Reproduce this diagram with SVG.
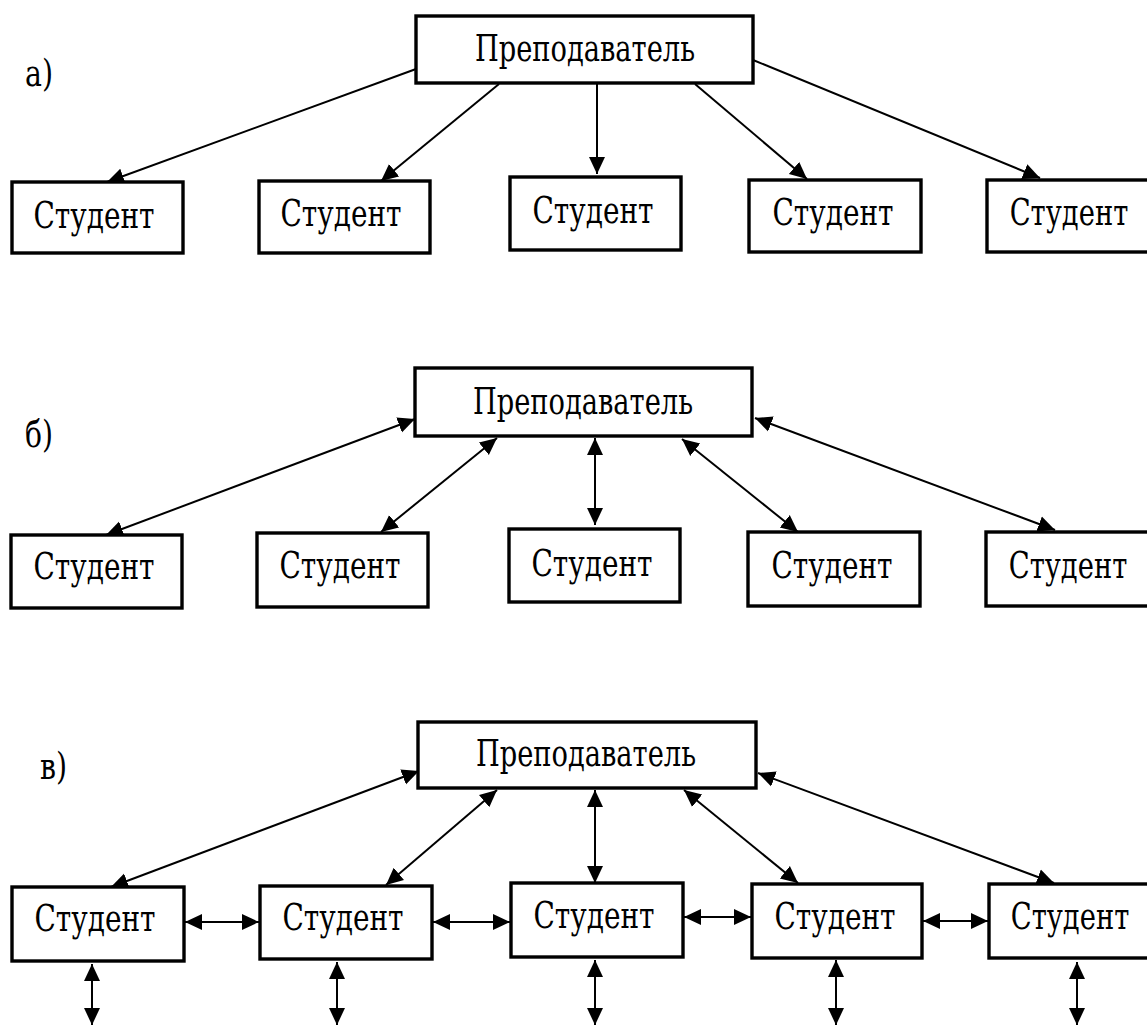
<svg xmlns="http://www.w3.org/2000/svg" width="1147" height="1026" viewBox="0 0 1147 1026">
<style>
.box{fill:#fff;stroke:#000;stroke-width:3.4}
.t{font-family:"DejaVu Serif","Liberation Serif",serif;font-size:37px;fill:#000;text-anchor:middle}
.lbl{font-family:"DejaVu Serif","Liberation Serif",serif;font-size:37px;fill:#000}
.c{stroke:#000;stroke-width:2;fill:none;marker-end:url(#ah)}
.d{stroke:#000;stroke-width:2;fill:none;marker-end:url(#ah);marker-start:url(#ah)}
</style>
<defs>
<marker id="ah" markerUnits="userSpaceOnUse" markerWidth="18" markerHeight="18" refX="17" refY="8.5" orient="auto-start-reverse" viewBox="0 0 18 18">
<path d="M0,0.5 L17,8.5 L0,16.5 z" fill="#000"/>
</marker>
</defs>
<rect width="1147" height="1026" fill="#fff"/>
<text class="lbl" x="25" y="86" textLength="28" lengthAdjust="spacingAndGlyphs">а)</text>
<text class="lbl" x="25" y="447" textLength="28" lengthAdjust="spacingAndGlyphs">б)</text>
<text class="lbl" x="40" y="779" textLength="27" lengthAdjust="spacingAndGlyphs">в)</text>

<g id="connectors">
<line class="c" x1="416" y1="69" x2="107" y2="182"/>
<line class="c" x1="499" y1="84" x2="381" y2="181"/>
<line class="c" x1="597" y1="84" x2="597" y2="174"/>
<line class="c" x1="695" y1="84" x2="807" y2="179"/>
<line class="c" x1="753" y1="60" x2="1040" y2="178"/>

<line class="d" x1="415" y1="419" x2="106" y2="535"/>
<line class="d" x1="497" y1="438" x2="381" y2="532"/>
<line class="d" x1="595" y1="438" x2="595" y2="525"/>
<line class="d" x1="682" y1="439" x2="798" y2="532"/>
<line class="d" x1="755" y1="418" x2="1055" y2="530"/>

<line class="d" x1="419" y1="771" x2="111" y2="887"/>
<line class="d" x1="497" y1="790" x2="386" y2="885"/>
<line class="d" x1="595" y1="790" x2="595" y2="883"/>
<line class="d" x1="684" y1="790" x2="798" y2="883"/>
<line class="d" x1="758" y1="773" x2="1054" y2="883"/>

<line class="d" x1="185" y1="922" x2="259" y2="922"/>
<line class="d" x1="433" y1="922" x2="510" y2="922"/>
<line class="d" x1="684" y1="917" x2="751" y2="917"/>
<line class="d" x1="923" y1="921" x2="988" y2="921"/>

<line class="d" x1="92" y1="964" x2="92" y2="1025"/>
<line class="d" x1="337" y1="962" x2="337" y2="1025"/>
<line class="d" x1="595" y1="960" x2="595" y2="1025"/>
<line class="d" x1="836" y1="960" x2="836" y2="1025"/>
<line class="d" x1="1077" y1="962" x2="1077" y2="1025"/>
</g>

<g id="a-teacher"><rect class="box" x="416" y="16" width="337" height="67"/><text class="t" x="585" y="61" textLength="220" lengthAdjust="spacingAndGlyphs">Преподаватель</text></g>
<g id="a-s1"><rect class="box" x="12" y="182" width="171" height="71"/><text class="t" x="94" y="228" textLength="121" lengthAdjust="spacingAndGlyphs">Студент</text></g>
<g id="a-s2"><rect class="box" x="259" y="181" width="171" height="72"/><text class="t" x="341" y="226" textLength="121" lengthAdjust="spacingAndGlyphs">Студент</text></g>
<g id="a-s3"><rect class="box" x="510" y="177" width="171" height="73"/><text class="t" x="593" y="223" textLength="121" lengthAdjust="spacingAndGlyphs">Студент</text></g>
<g id="a-s4"><rect class="box" x="749" y="180" width="172" height="72"/><text class="t" x="833" y="225" textLength="121" lengthAdjust="spacingAndGlyphs">Студент</text></g>
<g id="a-s5"><rect class="box" x="987" y="180" width="162" height="72"/><text class="t" x="1069" y="225" transform="translate(1069,0) scale(0.74,1) translate(-1069,0)">Студент</text></g>

<g id="b-teacher"><rect class="box" x="415" y="368" width="337" height="68"/><text class="t" x="583" y="414" textLength="220" lengthAdjust="spacingAndGlyphs">Преподаватель</text></g>
<g id="b-s1"><rect class="box" x="11" y="535" width="171" height="73"/><text class="t" x="94" y="579" textLength="121" lengthAdjust="spacingAndGlyphs">Студент</text></g>
<g id="b-s2"><rect class="box" x="257" y="533" width="171" height="74"/><text class="t" x="340" y="578" textLength="121" lengthAdjust="spacingAndGlyphs">Студент</text></g>
<g id="b-s3"><rect class="box" x="509" y="529" width="171" height="73"/><text class="t" x="592" y="576" textLength="121" lengthAdjust="spacingAndGlyphs">Студент</text></g>
<g id="b-s4"><rect class="box" x="748" y="532" width="172" height="74"/><text class="t" x="832" y="578" textLength="121" lengthAdjust="spacingAndGlyphs">Студент</text></g>
<g id="b-s5"><rect class="box" x="986" y="532" width="163" height="74"/><text class="t" x="1068" y="578" transform="translate(1068,0) scale(0.74,1) translate(-1068,0)">Студент</text></g>

<g id="c-teacher"><rect class="box" x="418" y="722" width="338" height="66"/><text class="t" x="586" y="766" textLength="220" lengthAdjust="spacingAndGlyphs">Преподаватель</text></g>
<g id="c-s1"><rect class="box" x="12" y="887" width="172" height="74"/><text class="t" x="95" y="931" textLength="121" lengthAdjust="spacingAndGlyphs">Студент</text></g>
<g id="c-s2"><rect class="box" x="260" y="886" width="172" height="73"/><text class="t" x="343" y="930" textLength="121" lengthAdjust="spacingAndGlyphs">Студент</text></g>
<g id="c-s3"><rect class="box" x="511" y="883" width="172" height="74"/><text class="t" x="594" y="928" textLength="121" lengthAdjust="spacingAndGlyphs">Студент</text></g>
<g id="c-s4"><rect class="box" x="752" y="884" width="170" height="74"/><text class="t" x="835" y="929" textLength="121" lengthAdjust="spacingAndGlyphs">Студент</text></g>
<g id="c-s5"><rect class="box" x="989" y="884" width="160" height="74"/><text class="t" x="1070" y="929" transform="translate(1070,0) scale(0.74,1) translate(-1070,0)">Студент</text></g>
</svg>
